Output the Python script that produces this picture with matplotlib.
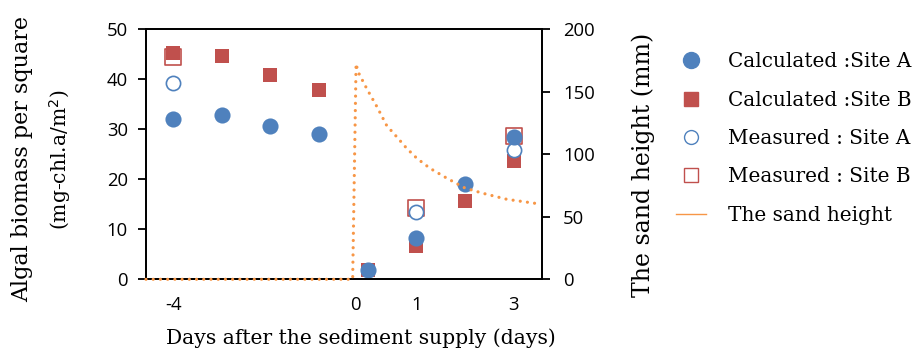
import matplotlib
matplotlib.use("Agg")
import matplotlib.pyplot as plt
from matplotlib.lines import Line2D

# x positions are the (uneven) slots of the original category-like axis
slots = [0, 1, 2, 3, 4, 5, 6, 7]
tick_pos = [0, 3.75, 5, 7]
tick_lab = ["-4", "0", "1", "3"]

calc_a = [32.1, 32.8, 30.6, 29.1, 1.9, 8.2, 19.1, 28.5]
calc_b = [45.2, 44.7, 40.8, 37.9, 1.9, 6.7, 15.7, 23.7]

meas_slots = [0, 5, 7]
meas_a = [39.3, 13.5, 25.9]
meas_b = [44.5, 14.3, 28.7]

sand_x = [-0.56, 3.69, 3.76, 3.80, 3.98, 4.19, 4.39, 4.60, 4.80, 5.01,
          5.28, 5.63, 6.00, 6.37, 6.86, 7.44]
sand_h = [0, 0, 172.5, 166, 152.5, 138, 123, 113.8, 104.8, 96.8,
          88.8, 80.8, 73, 68.8, 64, 60.8]

BLUE = "#4F81BD"
RED = "#C0504D"
ORANGE = "#F79646"
SERIF = "DejaVu Serif"
SANS = "Open Sans"

fig = plt.figure(figsize=(9.17, 3.5), dpi=100)
ax = fig.add_axes([0.1592, 0.202, 0.4322, 0.7143])
ax2 = ax.twinx()

ax.scatter(meas_slots, meas_b, marker="s", s=120, facecolor="white", edgecolor=RED, linewidth=1.2, zorder=3)
ax.scatter(slots, calc_b, marker="s", s=115, color=RED, linewidth=0, zorder=4)
ax.scatter(meas_slots, meas_a, marker="o", s=105, facecolor="white", edgecolor=BLUE, linewidth=1.2, zorder=5)
ax.scatter(slots, calc_a, marker="o", s=135, color=BLUE, linewidth=0, zorder=6)

ax2.plot(sand_x, sand_h, color=ORANGE, linewidth=2.3, linestyle=(0, (0.01, 2.25)),
         dash_capstyle="round", clip_on=False, zorder=5)

ax.set_xlim(-0.56, 7.59)
ax.set_ylim(0, 50)
ax2.set_ylim(0, 200)
ax.set_yticks([0, 10, 20, 30, 40, 50])
ax2.set_yticks([0, 50, 100, 150, 200])
ax.set_xticks(tick_pos)
ax.set_xticklabels(tick_lab)

for a in (ax, ax2):
    for sp in a.spines.values():
        sp.set_linewidth(1.3)
        sp.set_color("black")
        sp.set_zorder(1)
    a.tick_params(axis="y", direction="out", length=6, width=1.3, labelsize=13.3)
    for lab in a.get_yticklabels():
        lab.set_fontfamily(SANS)
ax.tick_params(axis="x", length=0, pad=12, labelsize=13.3)
for lab in ax.get_xticklabels():
    lab.set_fontfamily(SANS)
ax.tick_params(axis="y", pad=7)
ax2.tick_params(axis="y", pad=9)

fig.text(0.3937, 0.034, "Days after the sediment supply (days)", ha="center", va="center",
         fontsize=14.6, family=SERIF)
fig.text(0.024, 0.545, "Algal biomass per square", rotation=90, ha="center", va="center",
         fontsize=16, family=SERIF)
fig.text(0.065, 0.543, "(mg-chl.a/m$^2$)", rotation=90, ha="center", va="center",
         fontsize=14.6, family=SERIF)
fig.text(0.701, 0.529, "The sand height (mm)", rotation=90, ha="center", va="center",
         fontsize=17, family=SERIF)

handles = [
    Line2D([], [], marker="o", linestyle="none", markersize=11.5, color=BLUE),
    Line2D([], [], marker="s", linestyle="none", markersize=10.5, color=RED),
    Line2D([], [], marker="o", linestyle="none", markersize=10, markerfacecolor="white",
           markeredgecolor=BLUE, markeredgewidth=1.0),
    Line2D([], [], marker="s", linestyle="none", markersize=10.5, markerfacecolor="white",
           markeredgecolor=RED, markeredgewidth=1.0),
    Line2D([], [], color=ORANGE, linewidth=1.0),
]
labels = ["Calculated :Site A", "Calculated :Site B", "Measured : Site A",
          "Measured : Site B", "The sand height"]
fig.legend(handles, labels, loc="upper left", bbox_to_anchor=(0.737, 0.851), frameon=False,
           prop={"family": SERIF, "size": 14.4}, labelspacing=0.97, handlelength=1.5,
           handletextpad=1.1, borderaxespad=0, borderpad=0)

fig.savefig("out.png", dpi=100)
